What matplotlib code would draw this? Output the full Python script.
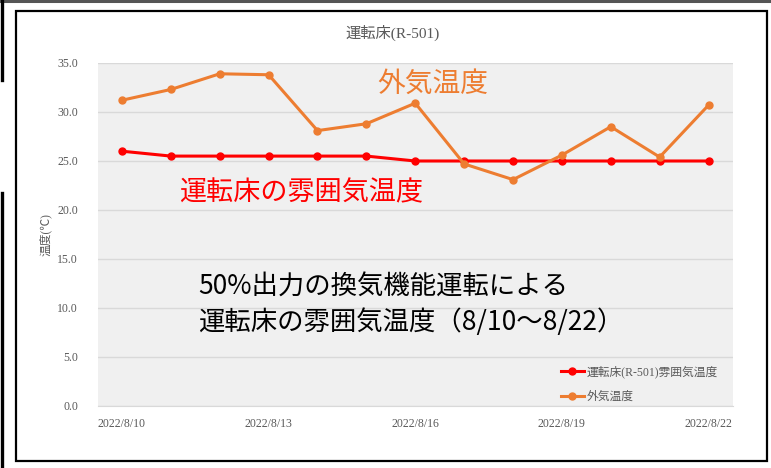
import matplotlib
matplotlib.use("Agg")
import matplotlib.pyplot as plt
from matplotlib.patches import Rectangle
from matplotlib.lines import Line2D

# --- data ---
dates = ["2022/8/10", "2022/8/11", "2022/8/12", "2022/8/13", "2022/8/14",
         "2022/8/15", "2022/8/16", "2022/8/17", "2022/8/18", "2022/8/19",
         "2022/8/20", "2022/8/21", "2022/8/22"]
room_temp = [26.0, 25.5, 25.5, 25.5, 25.5, 25.5, 25.0, 25.0, 25.0, 25.0, 25.0, 25.0, 25.0]
outside_temp = [31.2, 32.3, 33.9, 33.8, 28.1, 28.8, 30.9, 24.7, 23.1, 25.6, 28.5, 25.4, 30.7]
yticks = [0, 5, 10, 15, 20, 25, 30, 35]

serif = ["Liberation Serif", "Noto Sans CJK JP"]
sans = ["Noto Sans CJK JP", "DejaVu Sans"]
gray_txt = "#595959"
orange = "#ED7D31"
red = "#FF0000"

fig = plt.figure(figsize=(7.71, 4.68), dpi=100)
ax = fig.add_axes([0.1265, 0.1325, 0.8242, 0.7329])
ax.set_facecolor("#F0F0F0")

x = list(range(len(dates)))
ax.plot(x, room_temp, color=red, lw=2.2, marker="o", ms=5,
        label="運転床(R-501)雰囲気温度", zorder=3)
ax.plot(x, outside_temp, color=orange, lw=2.2, marker="o", ms=5,
        label="外気温度", zorder=3)

ax.set_xlim(-0.5, len(dates) - 0.5)
ax.set_ylim(0, 35)
ax.set_yticks(yticks)
ax.set_yticklabels([f"{v:.1f}" for v in yticks], family=serif, color=gray_txt, fontsize=8.5)
ax.set_xticks(x[::3])
ax.set_xticklabels(dates[::3], family=serif, color=gray_txt, fontsize=8.5)
ax.tick_params(length=0, pad=9)
ax.tick_params(axis="y", pad=14)
ax.grid(axis="y", color="#D9D9D9", lw=1)
ax.set_axisbelow(True)
for s in ["top", "left", "right"]:
    ax.spines[s].set_visible(False)
ax.spines["bottom"].set_color("#D9D9D9")

fig.text(393 / 771, 1 - 33 / 468, "運転床(R-501)", ha="center", va="center",
         family=serif, color=gray_txt, fontsize=11)
fig.text(45 / 771, 1 - 235 / 468, "温度(℃)", ha="center", va="center",
         rotation=90, family=serif, color=gray_txt, fontsize=8.5)

leg = ax.legend(loc="upper left", bbox_to_anchor=(0.712, 0.15), frameon=False,
                prop={"family": serif, "size": 8.5}, labelspacing=1.1,
                handlelength=2.0, handletextpad=0.2, labelcolor=gray_txt)

# annotations
ax.text(0.441, 0.94, "外気温度", transform=ax.transAxes, color=orange,
        fontsize=20, family=sans, va="center", ha="left")
ax.text(0.128, 0.62, "運転床の雰囲気温度", transform=ax.transAxes, color=red,
        fontsize=19.5, family=sans, va="center", ha="left")
ax.text(0.158, 0.295, "50%出力の換気機能運転による\n運転床の雰囲気温度（8/10～8/22）",
        transform=ax.transAxes, color="black", fontsize=19, family=sans,
        va="center", ha="left", linespacing=1.4)

# frame decorations
fig.add_artist(Rectangle((16 / 771, 7 / 468), 751 / 771, 450 / 468, transform=fig.transFigure,
                         fill=False, ec="black", lw=1.6))
fig.add_artist(Line2D([0, 1], [1 - 1 / 468, 1 - 1 / 468], transform=fig.transFigure,
                      color="#555555", lw=2.2))
fig.add_artist(Line2D([1.5 / 771, 1.5 / 771], [1, 1 - 80 / 468], transform=fig.transFigure,
                      color="black", lw=2.4))
fig.add_artist(Line2D([1.5 / 771, 1.5 / 771], [1 - 193 / 468, 0], transform=fig.transFigure,
                      color="black", lw=2.4))

fig.savefig("out.png", dpi=100)
